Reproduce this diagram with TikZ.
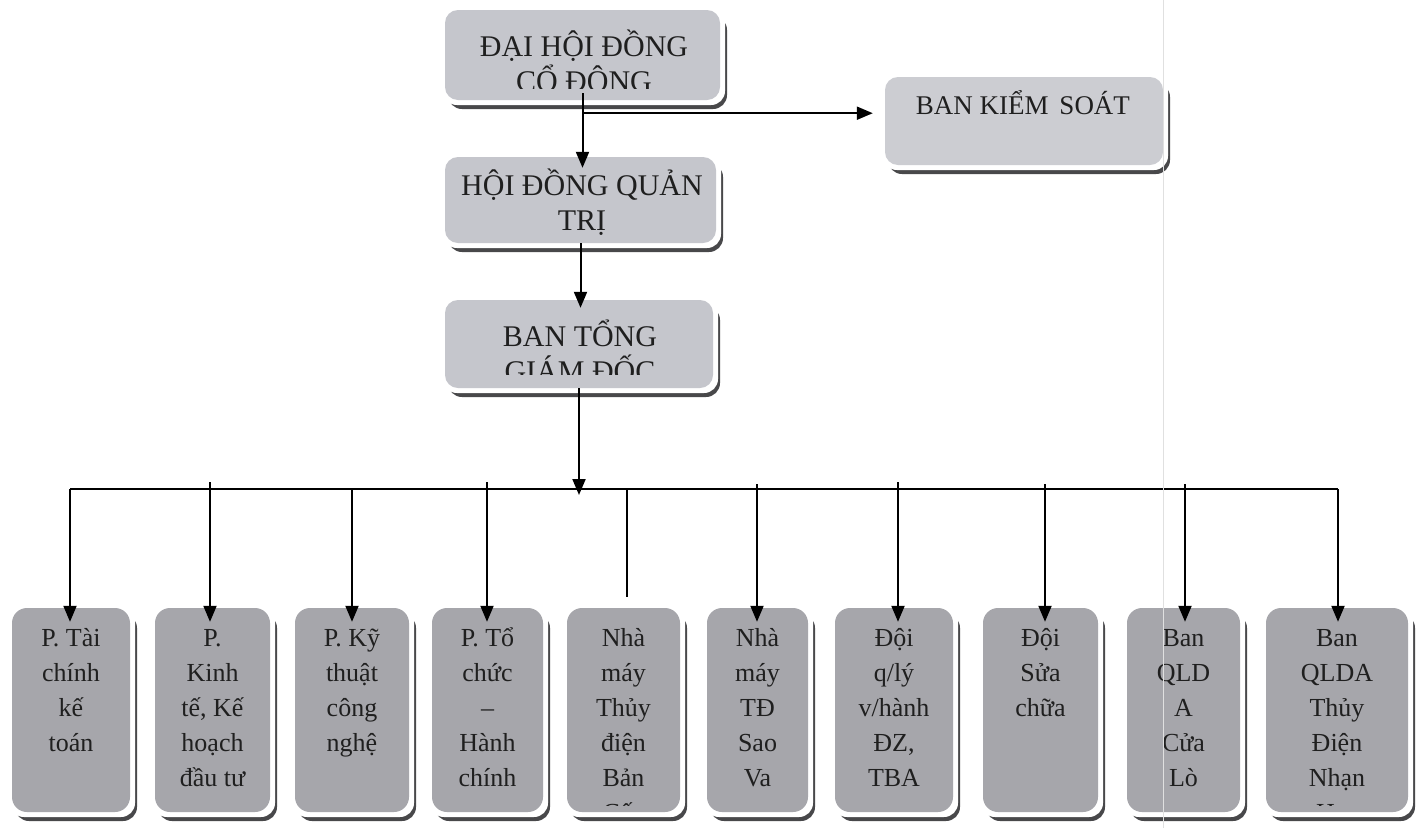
\documentclass[tikz,border=0pt]{standalone}
\usepackage{fontspec}
\setmainfont{Liberation Serif}
\usetikzlibrary{arrows.meta}
\definecolor{topfill}{RGB}{197,198,204}
\definecolor{bksfill}{RGB}{204,205,210}
\definecolor{botfill}{RGB}{166,166,171}
\definecolor{shadowc}{RGB}{72,72,74}
\newcommand\fixedls{\lineskiplimit=-100pt\relax}
\tikzset{
  boxbase/.style={rectangle, rounded corners=13pt, inner sep=0pt, draw=none},
  topbox/.style={boxbase, fill=topfill},
  bksbox/.style={boxbase, fill=bksfill},
  botbox/.style={boxbase, fill=botfill, rounded corners=15pt},
  toptext/.style={inner sep=0pt, anchor=north, align=center, text=black!88,
    font=\fontsize{30}{35}\selectfont\fixedls},
  bkstext/.style={toptext, font=\fontsize{27}{34}\selectfont\fixedls},
  bottext/.style={inner sep=0pt, anchor=north, align=center, text=black!88,
    font=\fontsize{26}{35}\selectfont\fixedls},
  conn/.style={line width=2pt, black},
  arr/.style={conn, -{Triangle[length=16pt,width=13pt]}},
}
% name, x1, y1, x2, y2, style
\newcommand\orgbox[6]{%
  \fill[shadowc, rounded corners=14pt] ({#2+3},{#3+6}) rectangle ({#4+7},{#5+9});
  \fill[white, rounded corners=14pt] ({#2-2},{#3-2}) rectangle ({#4+5},{#5+5});
  \node[#6, minimum width={#4-#2}, minimum height={#5-#3}] (#1) at ({(#2+#4)/2},{(#3+#5)/2}) {};
}
\begin{document}
\begin{tikzpicture}[x=1pt,y=-1pt]
\useasboundingbox (0,0) rectangle (1426,828);
\fill[white] (0,0) rectangle (1426,828);

% ---- top boxes ----
\orgbox{A}{445}{10}{720}{100}{topbox}
\orgbox{K}{885}{77}{1163}{165}{bksbox}
\orgbox{H}{445}{157}{716}{243}{topbox}
\orgbox{B}{445}{300}{713}{388}{topbox}

\begin{scope}
  \clip (445,10) rectangle (720,88);
  \node[toptext] (At) at (584,21) {\rule{0pt}{35pt}ĐẠI HỘI ĐỒNG\\CỔ ĐÔNG};
\end{scope}
\node[bkstext] (Kt) at (1023,81) {\rule{0pt}{33pt}BAN KIỂM\hspace{0.4em}SOÁT};
\node[toptext] (Ht) at (582,160) {\rule{0pt}{35pt}HỘI ĐỒNG QUẢN\\TRỊ};
\begin{scope}
  \clip (445,300) rectangle (713,374);
  \node[toptext] (Bt) at (580,311) {\rule{0pt}{35pt}BAN TỔNG\\GIÁM ĐỐC};
\end{scope}

% ---- bottom boxes ----
\orgbox{b1}{12}{608}{130}{812}{botbox}
\orgbox{b2}{155}{608}{270}{812}{botbox}
\orgbox{b3}{295}{608}{409}{812}{botbox}
\orgbox{b4}{432}{608}{543}{812}{botbox}
\orgbox{b5}{567}{608}{680}{812}{botbox}
\orgbox{b6}{707}{608}{808}{812}{botbox}
\orgbox{b7}{835}{608}{953}{812}{botbox}
\orgbox{b8}{983}{608}{1098}{812}{botbox}
\orgbox{b9}{1127}{608}{1240}{812}{botbox}
\orgbox{b10}{1266}{608}{1408}{812}{botbox}

\begin{scope}
  \clip (0,608) rectangle (1426,805);
  \node[bottext] (t1) at (b1.center |- 0,614) {\rule{0pt}{32pt}P. Tài\\chính\\kế\\toán};
  \node[bottext] (t2) at (b2.center |- 0,614) {\rule{0pt}{32pt}P.\\Kinh\\tế, Kế\\hoạch\\đầu tư};
  \node[bottext] (t3) at (b3.center |- 0,614) {\rule{0pt}{32pt}P. Kỹ\\thuật\\công\\nghệ};
  \node[bottext] (t4) at (b4.center |- 0,614) {\rule{0pt}{32pt}P. Tổ\\chức\\–\\Hành\\chính};
  \node[bottext] (t5) at (b5.center |- 0,614) {\rule{0pt}{32pt}Nhà\\máy\\Thủy\\điện\\Bản\\Cốc};
  \node[bottext] (t6) at (b6.center |- 0,614) {\rule{0pt}{32pt}Nhà\\máy\\TĐ\\Sao\\Va};
  \node[bottext] (t7) at (b7.center |- 0,614) {\rule{0pt}{32pt}Đội\\q/lý\\v/hành\\ĐZ,\\TBA};
  \node[bottext] (t8) at (b8.center |- 0,614) {\rule{0pt}{32pt}Đội\\Sửa\\chữa};
  \node[bottext] (t9) at (b9.center |- 0,614) {\rule{0pt}{32pt}Ban\\QLD\\A\\Cửa\\Lò};
  \node[bottext] (t10) at (b10.center |- 0,614) {\rule{0pt}{32pt}Ban\\QLDA\\Thủy\\Điện\\Nhạn\\Hạc};
\end{scope}

% ---- connectors ----
\coordinate (j1) at ([yshift=-13pt]A.south);
\draw[arr, shorten >=-11pt] ([yshift=7pt]A.south) -- (A.south |- H.north);
\draw[arr, shorten >=12pt] (j1) -- (j1 -| K.west);
\draw[arr, shorten >=-8pt] (H.south) -- (H.south |- B.north);

\coordinate (bus) at (579,489);
\draw[arr, shorten >=-6pt] (B.south) -- (bus);

\coordinate (d1) at (70,489);
\coordinate (d2) at (210,489);
\coordinate (d3) at (352,489);
\coordinate (d4) at (487,489);
\coordinate (d5) at (627,489);
\coordinate (d6) at (757,489);
\coordinate (d7) at (898,489);
\coordinate (d8) at (1045,489);
\coordinate (d9) at (1185,489);
\coordinate (d10) at (1338,489);
\draw[conn] (d1) -- (d10);

\draw[arr, shorten >=-14pt] (d1) -- (d1 |- b1.north);
\draw[arr, shorten >=-14pt] ([yshift=7pt]d2) -- (d2 |- b2.north);
\draw[arr, shorten >=-14pt] (d3) -- (d3 |- b3.north);
\draw[arr, shorten >=-14pt] ([yshift=7pt]d4) -- (d4 |- b4.north);
\draw[conn, shorten >=11pt] (d5) -- (d5 |- b5.north);
\draw[arr, shorten >=-14pt] ([yshift=5pt]d6) -- (d6 |- b6.north);
\draw[arr, shorten >=-14pt] ([yshift=7pt]d7) -- (d7 |- b7.north);
\draw[arr, shorten >=-14pt] ([yshift=5pt]d8) -- (d8 |- b8.north);
\draw[arr, shorten >=-14pt] ([yshift=5pt]d9) -- (d9 |- b9.north);
\draw[arr, shorten >=-14pt] (d10) -- (d10 |- b10.north);

% faint page fold line of the scan
\draw[black!12, line width=1pt] (1163,0) -- (1163,828);
\end{tikzpicture}
\end{document}
